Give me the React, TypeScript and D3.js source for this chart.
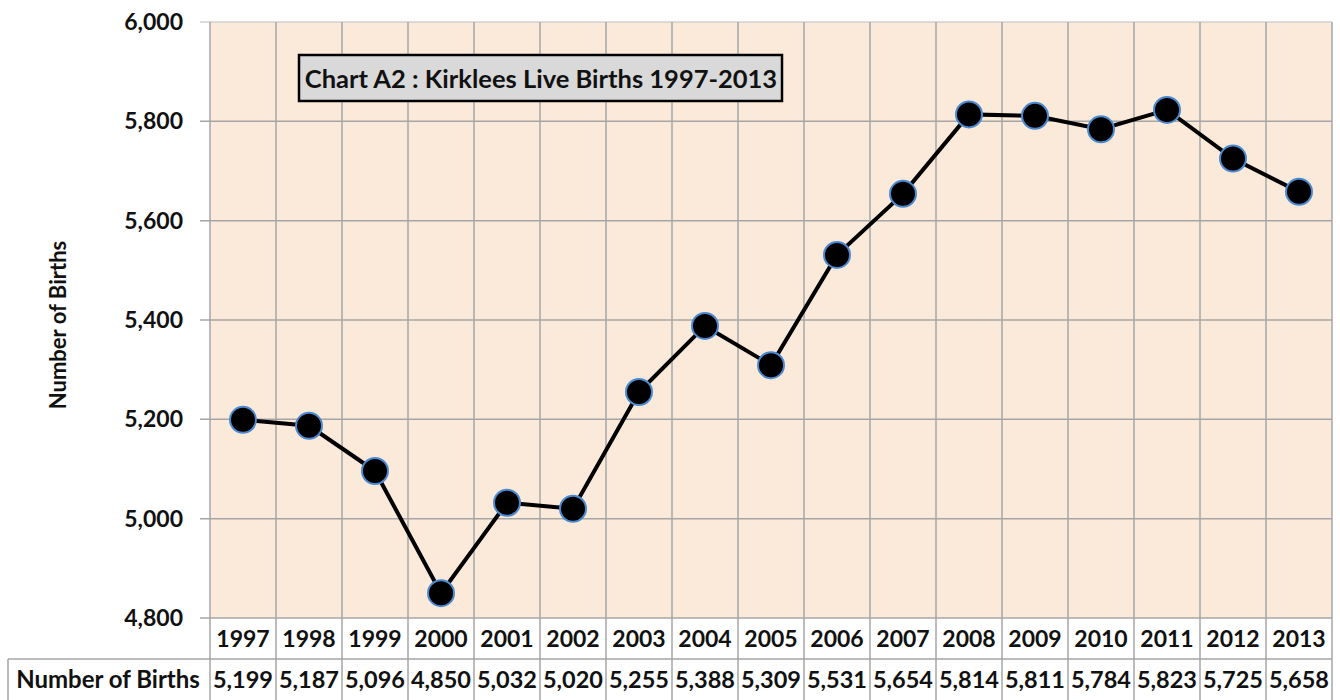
import React, { useEffect, useRef } from 'react';
import * as d3 from 'd3';

const years = ['1997', '1998', '1999', '2000', '2001', '2002', '2003', '2004', '2005', '2006', '2007', '2008', '2009', '2010', '2011', '2012', '2013'];
const births = [5199, 5187, 5096, 4850, 5032, 5020, 5255, 5388, 5309, 5531, 5654, 5814, 5811, 5784, 5823, 5725, 5658];
const yTicks = [4800, 5000, 5200, 5400, 5600, 5800, 6000];

const FONT = 'Lato, "Open Sans", sans-serif';

const App = () => {
  const svgRef = useRef<SVGSVGElement>(null);

  useEffect(() => {
    const svg = d3.select(svgRef.current);
    svg.selectAll('*').remove();

    const width = 1340;
    const height = 700;
    const margin = { top: 22, right: 8, left: 210 };
    const plotBottom = 618;
    const rowH = 41;

    const x = d3
      .scaleBand()
      .domain(years)
      .range([margin.left, width - margin.right]);
    const y = d3.scaleLinear().domain([4800, 6000]).range([plotBottom, margin.top]);

    const addText = (sel: any, size: number) =>
      sel
        .style('font-family', FONT)
        .style('font-weight', 'bold')
        .style('font-size', `${size}px`)
        .attr('fill', '#111');

    // plot background
    svg
      .append('rect')
      .attr('x', margin.left)
      .attr('y', margin.top)
      .attr('width', x.range()[1] - margin.left)
      .attr('height', plotBottom - margin.top)
      .attr('fill', '#fbe9da');

    // horizontal grid
    svg
      .append('g')
      .selectAll('line')
      .data(yTicks)
      .enter()
      .append('line')
      .attr('x1', margin.left - 10)
      .attr('x2', x.range()[1])
      .attr('y1', (d) => y(d))
      .attr('y2', (d) => y(d))
      .attr('stroke', (d) => (d === 6000 ? '#d0d0d0' : '#a6a6a6'))
      .attr('stroke-width', 1.5);

    // vertical grid + table column lines
    const bounds = years.map((d) => x(d)!).concat([x.range()[1]]);
    svg
      .append('g')
      .selectAll('line')
      .data(bounds)
      .enter()
      .append('line')
      .attr('x1', (d) => d)
      .attr('x2', (d) => d)
      .attr('y1', margin.top)
      .attr('y2', height)
      .attr('stroke', '#a6a6a6')
      .attr('stroke-width', 1.5);

    // table horizontals
    svg
      .append('line')
      .attr('x1', 8)
      .attr('x2', x.range()[1])
      .attr('y1', plotBottom + rowH)
      .attr('y2', plotBottom + rowH)
      .attr('stroke', '#a6a6a6')
      .attr('stroke-width', 1.5);
    svg
      .append('line')
      .attr('x1', 8)
      .attr('x2', 8)
      .attr('y1', plotBottom + rowH)
      .attr('y2', height)
      .attr('stroke', '#a6a6a6')
      .attr('stroke-width', 1.5);

    // y tick labels
    addText(
      svg
        .append('g')
        .selectAll('text')
        .data(yTicks)
        .enter()
        .append('text')
        .attr('x', 183)
        .attr('y', (d) => y(d))
        .attr('dy', '0.35em')
        .attr('text-anchor', 'end')
        .text((d) => d3.format(',')(d)),
      23,
    );

    // y axis title
    addText(
      svg
        .append('text')
        .attr('transform', `translate(66,${(margin.top + plotBottom) / 2 + 5}) rotate(-90)`)
        .attr('text-anchor', 'middle')
        .text('Number of Births'),
      22,
    );

    // line
    const line = d3
      .line<number>()
      .x((_, i) => x(years[i])! + x.bandwidth() / 2)
      .y((d) => y(d));
    svg
      .append('path')
      .datum(births)
      .attr('d', line)
      .attr('fill', 'none')
      .attr('stroke', '#000')
      .attr('stroke-width', 4);

    // markers
    svg
      .append('g')
      .selectAll('circle')
      .data(births)
      .enter()
      .append('circle')
      .attr('cx', (_, i) => x(years[i])! + x.bandwidth() / 2)
      .attr('cy', (d) => y(d))
      .attr('r', 13)
      .attr('fill', '#000')
      .attr('stroke', '#4a8ad0')
      .attr('stroke-width', 2);

    // title box
    const tg = svg.append('g');
    tg.append('rect')
      .attr('x', 299)
      .attr('y', 55)
      .attr('width', 483)
      .attr('height', 46)
      .attr('fill', '#d9d9d9')
      .attr('stroke', '#000')
      .attr('stroke-width', 2.5);
    addText(
      tg
        .append('text')
        .attr('x', 541)
        .attr('y', 79)
        .attr('dy', '0.35em')
        .attr('text-anchor', 'middle')
        .text('Chart A2 : Kirklees Live Births 1997-2013'),
      25.5,
    );

    // year row
    addText(
      svg
        .append('g')
        .selectAll('text')
        .data(years)
        .enter()
        .append('text')
        .attr('x', (d) => x(d)! + x.bandwidth() / 2)
        .attr('y', plotBottom + rowH / 2)
        .attr('dy', '0.35em')
        .attr('text-anchor', 'middle')
        .text((d) => d),
      23,
    );

    // value row
    addText(
      svg
        .append('text')
        .attr('x', 108)
        .attr('y', plotBottom + rowH * 1.5)
        .attr('dy', '0.35em')
        .attr('text-anchor', 'middle')
        .text('Number of Births'),
      24,
    );
    addText(
      svg
        .append('g')
        .selectAll('text')
        .data(births)
        .enter()
        .append('text')
        .attr('x', (_, i) => x(years[i])! + x.bandwidth() / 2)
        .attr('y', plotBottom + rowH * 1.5)
        .attr('dy', '0.35em')
        .attr('text-anchor', 'middle')
        .text((d) => d3.format(',')(d)),
      23.5,
    );
  }, []);

  return (
    <div style={{ position: 'absolute', left: 0, top: 0, width: 1340, height: 700, background: '#fff' }}>
      <svg ref={svgRef} width={1340} height={700} style={{ display: 'block' }}></svg>
    </div>
  );
};

export default App;
